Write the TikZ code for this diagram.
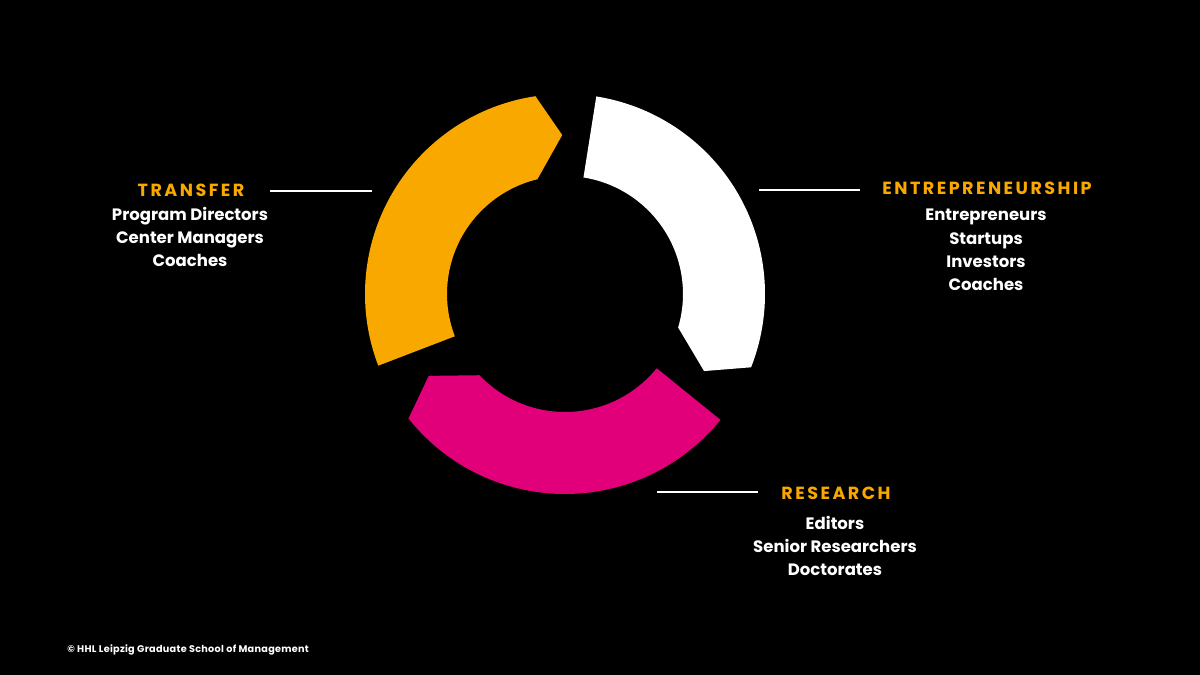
\documentclass[tikz,border=0pt]{standalone}
\usepackage{fontspec}
\setmainfont{Poppins}
\newfontfamily\titlefont[LetterSpace=14]{Poppins}
\newfontfamily\copyfont[LetterSpace=3]{Poppins}
\definecolor{hhlorange}{RGB}{249,168,0}
\definecolor{hhlpink}{RGB}{226,0,122}
\begin{document}
\begin{tikzpicture}[x=0.02cm,y=-0.02cm,
  title/.style={font=\titlefont\bfseries\fontsize{10}{12}\selectfont, text=hhlorange, anchor=base, inner sep=0pt},
  item/.style={font=\bfseries\fontsize{9.4}{12}\selectfont, text=white, anchor=base, inner sep=0pt},
  leader/.style={draw=white, line width=1.1pt}]
\fill[black] (0,0) rectangle (1200,675);
\useasboundingbox (0,0) rectangle (1200,675);
% ring segments
\begin{scope}[shift={(565,294)}, x=0.02cm, y=0.02cm]
  \foreach \s/\c in {201/hhlorange, 81/white, -39/hhlpink}{
    \fill[\c] (\s:200) arc[start angle=\s, end angle=\s-102.5, radius=200]
      -- (\s-110:159) -- (\s-97.5:118)
      arc[start angle=\s-97.5, end angle=\s, radius=118] -- cycle;
  }
\end{scope}
% TRANSFER
\node[title] (tt) at (191,197) {TRANSFER};
\node[item] (t1) at (190,221) {Program Directors};
\node[item] (t2) at (190,244) {Center Managers};
\node[item] (t3) at (190,267) {Coaches};
\coordinate (tla) at (270,191);
\coordinate (tlb) at (372,191);
\draw[leader] (tla) -- (tlb);
% ENTREPRENEURSHIP
\node[title] (et) at (987,195) {ENTREPRENEURSHIP};
\node[item] (e1) at (986,221) {Entrepreneurs};
\node[item] (e2) at (986,245) {Startups};
\node[item] (e3) at (986,268) {Investors};
\node[item] (e4) at (986,291) {Coaches};
\coordinate (ela) at (759,190);
\coordinate (elb) at (860,190);
\draw[leader] (ela) -- (elb);
% RESEARCH
\node[title] (rt) at (836,499) {RESEARCH};
\node[item] (r1) at (835,529) {Editors};
\node[item] (r2) at (835,552) {Senior Researchers};
\node[item] (r3) at (835,575) {Doctorates};
\coordinate (rla) at (657,492);
\coordinate (rlb) at (758,492);
\draw[leader] (rla) -- (rlb);
% copyright
\node[font=\copyfont\bfseries\fontsize{5.5}{6}\selectfont, text=white, anchor=west, inner sep=0pt] (cp) at (67,650) {© HHL Leipzig Graduate School of Management};
\end{tikzpicture}
\end{document}
